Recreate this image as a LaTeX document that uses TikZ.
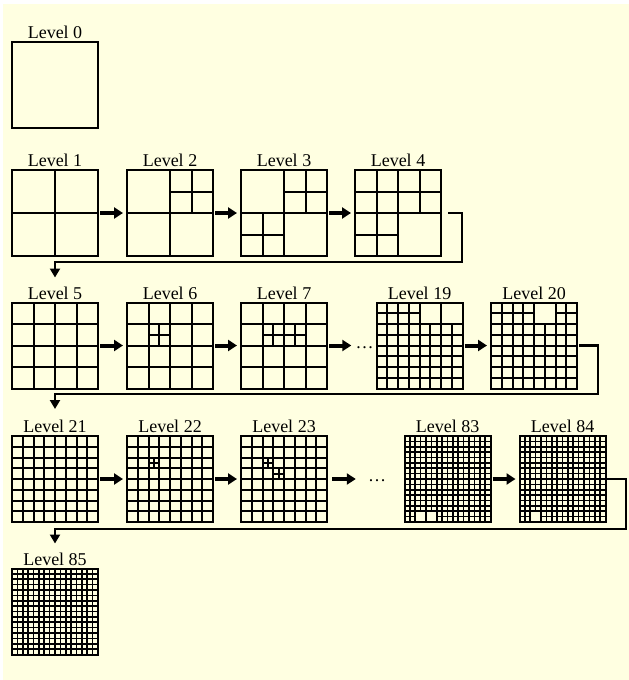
\documentclass[tikz,border=0pt]{standalone}
\usepackage{fontspec}
\setmainfont{Liberation Serif}
\usetikzlibrary{arrows.meta,calc,positioning}
\definecolor{paper}{HTML}{FFFFE1}
\definecolor{ink}{HTML}{000000}
\tikzset{
  qbox/.style={draw=ink, line width=2pt, minimum size=86pt,
    inner sep=0pt, outer sep=0pt},
  qline/.style={draw=ink, line width=2pt},
  fine/.style={qline/.append style={line width=1.6pt}},
  lvl/.style={font=\fontsize{18}{20}\selectfont, text=ink, inner sep=0pt},
  dots/.style={font=\fontsize{18}{20}\selectfont, text=ink, inner sep=0pt},
  flow/.style={-{Triangle[length=9pt,width=11pt]}, draw=ink,
    line width=4pt, shorten <=2pt, shorten >=4pt},
  ret/.style={-{Triangle[length=9pt,width=10pt]}, draw=ink,
    line width=2.6pt}
}
% regular n x n subdivision of a level box
\newcommand\qgrid[2]{%
  \pgfmathtruncatemacro\qlast{#2-1}%
  \foreach \k in {1,...,\qlast}{%
    \draw[qline] ($(#1.north west)!\k/#2!(#1.north east)$) --
      ($(#1.south west)!\k/#2!(#1.south east)$);
    \draw[qline] ($(#1.north west)!\k/#2!(#1.south west)$) --
      ($(#1.north east)!\k/#2!(#1.south east)$);
  }}
% cell (row,col) of the n x n grid split once more
\newcommand\qsplit[4]{%
  \draw[qline] ($(#1.north west)+({(#4-0.5)*86/#2},{(#3-1)*86/#2})$)
    -- ++(0,{86/#2});
  \draw[qline] ($(#1.north west)+({(#4-1)*86/#2},{(#3-0.5)*86/#2})$)
    -- ++({86/#2},0);}
% cell (row,col) of the n x n grid left undivided
\newcommand\qmerge[4]{%
  \filldraw[qline, fill=paper]
    ($(#1.north west)+({(#4-1)*86/#2},{(#3-1)*86/#2})$)
    rectangle ++({86/#2},{86/#2});}

\begin{document}
\begin{tikzpicture}[x=1pt,y=-1pt]
\useasboundingbox (0,0) rectangle (629,680);
\fill[paper] (3,4) rectangle (629,680);

% Level 0
\node[qbox] (l0) at (55,84.5) {};
\node[lvl, above=3pt of l0] (t0) {Level 0};

% Row 1
\node[qbox] (l1) at (55,213) {};
\node[qbox] (l2) at (170,213) {};
\node[qbox] (l3) at (284,213) {};
\node[qbox] (l4) at (398,213) {};
\foreach \n in {1,2,3,4}
  \node[lvl, above=3pt of l\n] (t\n) {Level \n};
\qgrid{l1}{2}
\qgrid{l2}{2} \qsplit{l2}{2}{1}{2}
\qgrid{l3}{2} \qsplit{l3}{2}{1}{2} \qsplit{l3}{2}{2}{1}
\qgrid{l4}{4} \qmerge{l4}{2}{2}{2}
\draw[flow] (l1) -- (l2);
\draw[flow] (l2) -- (l3);
\draw[flow] (l3) -- (l4);

% Row 2
\node[qbox] (l5) at (55,345.5) {};
\node[qbox] (l6) at (170,345.5) {};
\node[qbox] (l7) at (284,345.5) {};
\node[dots, anchor=base] (d1) at (364.5,348) {…};
\node[qbox] (l19) at (419.5,345.5) {};
\node[qbox] (l20) at (534,345.5) {};
\foreach \n in {5,6,7,19,20}
  \node[lvl, above=3pt of l\n] (t\n) {Level \n};
\qgrid{l5}{4}
\qgrid{l6}{4} \qsplit{l6}{4}{2}{2}
\qgrid{l7}{4} \qsplit{l7}{4}{2}{2} \qsplit{l7}{4}{2}{3}
\qgrid{l19}{8} \qmerge{l19}{4}{1}{3} \qmerge{l19}{4}{1}{4}
\qgrid{l20}{8} \qmerge{l20}{4}{1}{3}
\draw[flow] (l5) -- (l6);
\draw[flow] (l6) -- (l7);
\draw[flow] (l7) -- (l7 -| d1.west);
\draw[flow] (l19) -- (l20);

% Row 3
\node[qbox] (l21) at (55,479) {};
\node[qbox] (l22) at (170,479) {};
\node[qbox] (l23) at (284,479) {};
\node[dots, anchor=base] (d2) at (377,481) {…};
\node[qbox] (l83) at (447.5,479) {};
\node[qbox] (l84) at (562.5,479) {};
\foreach \n in {21,22,23,83,84}
  \node[lvl, above=3pt of l\n] (t\n) {Level \n};
\qgrid{l21}{8}
\qgrid{l22}{8} \qsplit{l22}{8}{3}{3}
\qgrid{l23}{8} \qsplit{l23}{8}{3}{3} \qsplit{l23}{8}{4}{4}
\begin{scope}[fine]
\qgrid{l83}{16} \qmerge{l83}{8}{8}{2} \qmerge{l83}{8}{8}{3}
\qgrid{l84}{16} \qmerge{l84}{8}{8}{2}
\end{scope}
\draw[flow] (l21) -- (l22);
\draw[flow] (l22) -- (l23);
\draw[flow, shorten <=5pt, shorten >=12pt] (l23) -- (l23 -| d2.west);
\draw[flow] (l83) -- (l84);

% Row 4
\node[qbox] (l85) at (55,611.5) {};
\node[lvl, above=3pt of l85] (t85) {Level 85};
\begin{scope}[fine]
\qgrid{l85}{16}
\end{scope}

% wrap-around connectors between rows
\coordinate (r1) at (462,262);
\coordinate (r2) at (598,394);
\coordinate (r3) at (626,529);
\draw[ret] ([xshift=7pt]l4.east) -| (r1) -| ([yshift=25pt]l5.north);
\draw[ret] ([xshift=2pt]l20.east) -| (r2) -| ([yshift=27pt]l21.north);
\draw[ret] (l84.east) -| (r3) -| ([yshift=25pt]l85.north);

\end{tikzpicture}
\end{document}
